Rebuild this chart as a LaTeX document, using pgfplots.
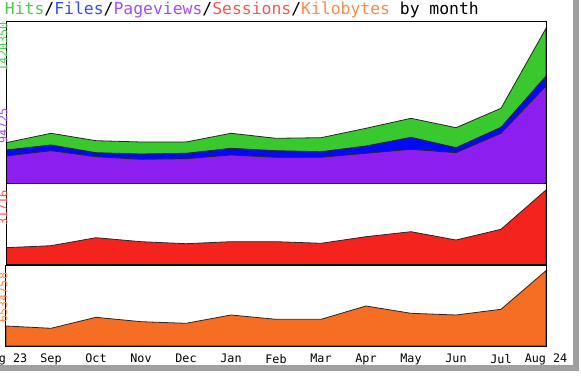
\documentclass[border=0pt]{standalone}
\usepackage{pgfplots}
\pgfplotsset{compat=1.18}
\usepackage{fontspec}
\setmonofont{DejaVu Sans Mono}
\definecolor{cHits}{RGB}{58,200,47}
\definecolor{cFiles}{RGB}{5,10,245}
\definecolor{cPages}{RGB}{140,30,240}
\definecolor{cSess}{RGB}{245,35,30}
\definecolor{cKB}{RGB}{245,110,35}
\definecolor{tHits}{RGB}{80,200,80}
\definecolor{tFiles}{RGB}{50,80,230}
\definecolor{tPages}{RGB}{160,80,240}
\definecolor{tSess}{RGB}{240,90,80}
\definecolor{tKB}{RGB}{245,140,80}
\definecolor{frameGrey}{RGB}{160,160,160}
\pgfplotsset{
  panel/.style={
    scale only axis, anchor=origin, width=405pt,
    xmin=0, xmax=12, ymin=0,
    ytick=\empty, axis line style={black, line width=0.75pt},
    major tick length=0pt, clip=true, axis on top,
  },
  area/.style={draw=black!85, line width=0.6pt, fill=#1},
}
\begin{document}
\begin{tikzpicture}
\path[use as bounding box] (0,0) rectangle (435.75pt,283.5pt);
\fill[white] (0,0) rectangle (435.75pt,283.5pt);
% grey frame shadow
\fill[frameGrey] (429.75pt,5.25pt) rectangle (434.25pt,283.5pt);
\fill[frameGrey] (0pt,5.25pt) rectangle (434.25pt,9.75pt);

% title
\node[anchor=base west, inner sep=0pt, font=\ttfamily\fontsize{12.3pt}{14pt}\selectfont] at (3.5pt,272.5pt)
 {\textcolor{tHits}{Hits}/\textcolor{tFiles}{Files}/\textcolor{tPages}{Pageviews}/\textcolor{tSess}{Sessions}/\textcolor{tKB}{Kilobytes} by month};

% top panel: hits / files / pageviews
\begin{axis}[panel, at={(4.5pt,145.5pt)}, height=121.5pt, ymax=162, xtick=\empty]
\addplot[area=cHits] coordinates {(0,41.3)(1,50.7)(2,43.3)(3,42)(4,42)(5,50.7)(6,45.7)(7,46.3)(8,55.7)(9,65.7)(10,56.3)(11,75.7)(12,155.7)} \closedcycle;
\addplot[area=cFiles] coordinates {(0,34)(1,39)(2,31.3)(3,30)(4,30.7)(5,35.7)(6,33.3)(7,32.3)(8,38)(9,46.7)(10,36.3)(11,56.7)(12,108)} \closedcycle;
\addplot[area=cPages] coordinates {(0,28)(1,33.3)(2,27.3)(3,24.7)(4,25.3)(5,29)(6,26.7)(7,26.7)(8,30.7)(9,34.7)(10,31.3)(11,50.7)(12,98)} \closedcycle;
\end{axis}

% middle panel: sessions
\begin{axis}[panel, at={(4.5pt,84.75pt)}, height=60.75pt, ymax=81, xtick=\empty]
\addplot[area=cSess] coordinates {(0,17.3)(1,19.3)(2,27.3)(3,23.3)(4,21.3)(5,23.3)(6,23.3)(7,21.7)(8,28.3)(9,33.3)(10,25)(11,35.7)(12,75)} \closedcycle;
\end{axis}

% bottom panel: kilobytes
\begin{axis}[panel, at={(4.5pt,24pt)}, height=60.75pt, ymax=81,
  xtick={0,1,2,3,4,5,6,7,8,9,10,11,12},
  xticklabels={Aug 23,Sep,Oct,Nov,Dec,Jan,Feb,Mar,Apr,May,Jun,Jul,Aug 24},
  xticklabel style={font=\ttfamily\fontsize{8.8pt}{10pt}\selectfont, text=black, anchor=north, inner sep=0pt, yshift=-6pt}]
\addplot[area=cKB] coordinates {(0,20)(1,17.7)(2,28.7)(3,24.3)(4,22.7)(5,31)(6,26.7)(7,26.7)(8,40)(9,32.7)(10,31)(11,36.7)(12,75.3)} \closedcycle;
\end{axis}

% clipped rotated y-scale labels at the far left
\begin{scope}[every node/.style={rotate=90, inner sep=0pt, font=\ttfamily\fontsize{8.8pt}{10pt}\selectfont}]
\node[text=tHits, anchor=east] at (2.3pt,267pt) {1420350};
\node[text=tPages, anchor=center] at (2.3pt,189pt) {94725};
\node[text=tSess, anchor=east] at (2.3pt,141pt) {31716};
\node[text=tKB, anchor=east] at (2.3pt,79pt) {6534758};
\end{scope}
\end{tikzpicture}
\end{document}
